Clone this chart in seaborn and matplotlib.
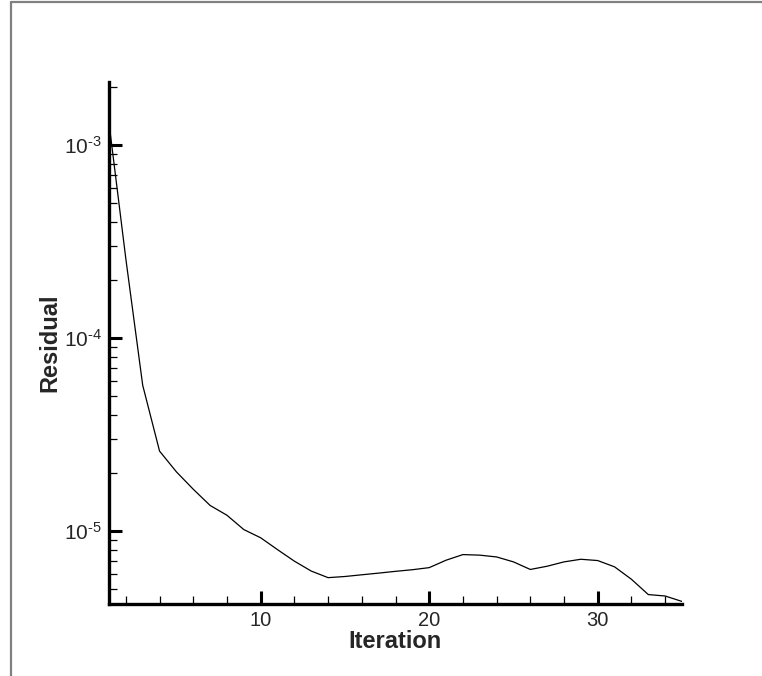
import matplotlib
matplotlib.use("Agg")
import matplotlib.pyplot as plt
from matplotlib.lines import Line2D
from matplotlib.ticker import MultipleLocator, LogLocator, FixedLocator, NullFormatter
import seaborn as sns
import pandas as pd

iterations = list(range(1, 36))
residual = [1.30e-3, 2.57e-4, 5.7e-5, 2.6e-5, 2.03e-5, 1.65e-5, 1.36e-5, 1.21e-5, 1.02e-5, 9.25e-6,
            8.03e-6, 7.0e-6, 6.22e-6, 5.75e-6, 5.83e-6, 5.95e-6, 6.07e-6, 6.2e-6, 6.32e-6, 6.48e-6,
            7.08e-6, 7.57e-6, 7.52e-6, 7.36e-6, 6.94e-6, 6.34e-6, 6.59e-6, 6.94e-6, 7.16e-6, 7.05e-6,
            6.54e-6, 5.64e-6, 4.70e-6, 4.62e-6, 4.33e-6]
x_major = [10, 20, 30]
y_major = [1e-3, 1e-4, 1e-5]
y_tick_labels = [r"10$^{\text{-3}}$", r"10$^{\text{-4}}$", r"10$^{\text{-5}}$"]

sns.set_style("ticks")
plt.rcParams['font.family'] = ['Liberation Sans', 'DejaVu Sans']
plt.rcParams['mathtext.fontset'] = 'custom'
plt.rcParams['mathtext.rm'] = 'Liberation Sans'
plt.rcParams['mathtext.it'] = 'Liberation Sans'
plt.rcParams['mathtext.bf'] = 'Liberation Sans:bold'

W, H = 762, 676
fig = plt.figure(figsize=(W / 100, H / 100), dpi=100)
ax = fig.add_axes([109 / W, (H - 604) / H, (682 - 109) / W, (604 - 82) / H])

df = pd.DataFrame({"Iteration": iterations, "Residual": residual})
sns.lineplot(data=df, x="Iteration", y="Residual", ax=ax, color="black", linewidth=0.9)

ax.set_yscale("log")
ax.set_xlim(1, 35)
ax.set_ylim(4.2e-6, 2.12e-3)

ax.xaxis.set_major_locator(FixedLocator(x_major))
ax.xaxis.set_minor_locator(MultipleLocator(2))
ax.yaxis.set_major_locator(FixedLocator(y_major))
ax.set_yticklabels(y_tick_labels)
ax.yaxis.set_minor_locator(LogLocator(base=10, subs=[2, 3, 4, 5, 6, 7, 8, 9], numticks=20))
ax.yaxis.set_minor_formatter(NullFormatter())

for s in ["top", "right"]:
    ax.spines[s].set_visible(False)
for s in ["left", "bottom"]:
    ax.spines[s].set_linewidth(2.4)
    ax.spines[s].set_color("black")

ax.tick_params(which="major", direction="in", length=9.5, width=2.2, pad=5, color="black")
ax.tick_params(axis="x", which="major", labelsize=14.5)
ax.tick_params(axis="y", which="major", labelsize=15)
ax.tick_params(which="minor", direction="in", length=6, width=0.9, color="black")

ax.set_xlabel("Iteration", fontsize=17, fontweight="bold")
ax.set_ylabel("Residual", fontsize=17, fontweight="bold")
ax.xaxis.set_label_coords(0.5, -(642 - 604) / (604 - 82), transform=ax.transAxes)
ax.yaxis.set_label_coords(-(109 - 50) / (682 - 109), 0.5, transform=ax.transAxes)
ax.xaxis.label.set_va("center")
ax.yaxis.label.set_va("center")

fig.add_artist(Line2D([10.5 / W, 10.5 / W], [0, 1 - 1.5 / H], color="#808080", linewidth=1.6))
fig.add_artist(Line2D([10.5 / W, 1], [1 - 1.5 / H, 1 - 1.5 / H], color="#808080", linewidth=1.6))

fig.savefig("out.png", dpi=100)
